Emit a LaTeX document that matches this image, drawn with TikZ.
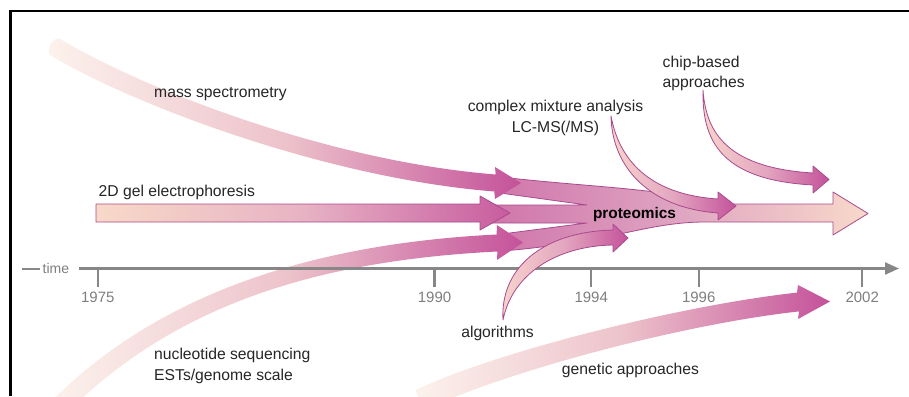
\documentclass[tikz,border=0pt]{standalone}
\usepackage{fontspec}
\setmainfont{Liberation Sans}
\usetikzlibrary{arrows.meta}
\definecolor{mag}{HTML}{C4529A}
\definecolor{peach}{HTML}{F8D8C8}
\definecolor{msL}{HTML}{FCF2EC}
\definecolor{msM}{HTML}{EDC3CB}
\definecolor{gelL}{HTML}{F8D9C8}
\definecolor{gelM}{HTML}{E7B3C4}
\definecolor{gelR}{HTML}{C85C9F}
\definecolor{blobL}{HTML}{CF74AA}
\definecolor{blobM}{HTML}{DFA4C1}
\definecolor{blobR}{HTML}{F8D9CA}
\definecolor{hornL}{HTML}{F7D5CC}
\definecolor{hornM}{HTML}{E3A6C0}
\definecolor{outc}{HTML}{A94A8E}
\definecolor{axisc}{HTML}{878787}
\definecolor{yearc}{HTML}{7F7F7F}
\definecolor{labelc}{HTML}{262626}
\tikzset{
  lbl/.style={font=\fontsize{15.7}{19}\selectfont, text=labelc, inner sep=0pt},
  yr/.style={font=\fontsize{15}{18}\selectfont, text=yearc, inner sep=0pt, anchor=base},
  outl/.style={draw=outc, line width=0.8pt, line join=round},
  ticksty/.style={draw=axisc, line width=2.2pt},
  bandfade/.style={left color=msL, right color=mag, middle color=msM},
  hornfill/.style={outl, left color=hornL, right color=mag, middle color=hornM},
}
\begin{document}
\begin{tikzpicture}[x=1pt,y=-1pt]
\useasboundingbox (0,0) rectangle (909,396);
\fill[white] (0,0) rectangle (909,396);

% frame
\draw[line width=2.2pt] (10.5,396) -- (10.5,11) -- (909,11);

% proteomics blob with final arrow
\draw[outl, left color=blobL, right color=blobR, middle color=blobM]
  (500,177) .. controls (590,187) and (650,188) .. (700,200)
  .. controls (712,203) and (720,204) .. (735,204) -- (833,204) -- (833,192)
  -- (868,213.5) -- (833,235) -- (833,222) -- (705,222)
  .. controls (670,222) and (640,230) .. (610,236)
  .. controls (580,242) and (540,248) .. (502,251) -- (502,234) -- (587,223)
  -- (485,223) -- (485,205) -- (587,205) -- (500,193) -- cycle;

% mass spectrometry band
\shade[bandfade]
  (59.9,38.9) .. controls (144.9,89.9) and (330.7,161.5) .. (495.7,174.5)
  -- (495,167) -- (521,183) -- (495,199) -- (494.3,191.5)
  .. controls (329.3,178.5) and (135.1,106.1) .. (50.1,55.1)
  .. controls (46,48) and (53,37) .. (59.9,38.9) -- cycle;

% nucleotide sequencing band
\shade[bandfade]
  (51.3,401.3) .. controls (151.3,301.3) and (296.6,244.5) .. (496.6,234.5)
  -- (497,225) -- (523,242.5) -- (497,260) -- (497.4,251.5)
  .. controls (297.4,261.5) and (164.7,314.7) .. (64.7,414.7) -- cycle;

% time axis
\coordinate (dashS) at (22,268.5);
\coordinate (dashE) at (39.5,268.5);
\coordinate (axS) at (79,268.5);
\coordinate (axE) at (899,268.5);
\draw[axisc, line width=2pt] (dashS) -- (dashE);
\draw[axisc, line width=2.2pt, -{Triangle[length=14pt,width=12pt]}] (axS) -- (axE);
\node[font=\fontsize{14}{16}\selectfont, text=yearc, anchor=base west, inner sep=0pt] (time) at (42.5,273) {time};

\foreach \yx/\yl in {97.8/1975, 434.5/1990, 591.2/1994, 698.7/1996, 862.2/2002}{
  \coordinate (t\yl) at (\yx,268.5);
  \coordinate (b\yl) at (\yx,287);
  \draw[ticksty] (t\yl) -- (b\yl);
  \node[yr] (y\yl) at (\yx,302) {\yl};
}

% genetic approaches band
\shade[bandfade]
  (415.3,390.1) .. controls (495.3,352.1) and (679,305.6) .. (797,292.6)
  -- (798,285) -- (830,301.5) -- (798,319) -- (799,311.4)
  .. controls (681,324.4) and (504.7,371.9) .. (424.7,409.9) -- cycle;

% 2D gel electrophoresis arrow
\draw[outl, left color=gelL, right color=gelR, middle color=gelM]
  (96,204) -- (480,204) -- (480,196) -- (510,213) -- (480,230) -- (480,222)
  -- (96,222) -- cycle;

% complex mixture horn
\draw[hornfill]
  (611,116) .. controls (620,165) and (655,195) .. (718,199) -- (718,192)
  -- (736,206) -- (718,220) -- (718,213)
  .. controls (650,208) and (612,168) .. (611,116) -- cycle;

% chip-based horn
\draw[hornfill]
  (703,90) .. controls (706,135) and (730,168) .. (813,173) -- (813,166)
  -- (829,179.5) -- (813,193) -- (813,185)
  .. controls (720,180) and (702,140) .. (703,90) -- cycle;

% algorithms horn
\draw[hornfill]
  (503,320) .. controls (500,270) and (540,232) .. (613,230) -- (613,224)
  -- (628,238) -- (613,252) -- (613,245)
  .. controls (555,246) and (512,275) .. (503,320) -- cycle;

% labels
\node[lbl, anchor=base west] (ms) at (154,97) {mass spectrometry};
\node[lbl, anchor=base west] (gel) at (98.5,196) {2D gel electrophoresis};
\node[lbl, anchor=base west] (nuc1) at (154,359) {nucleotide sequencing};
\node[lbl, anchor=base west] (nuc2) at (154,380) {ESTs/genome scale};
\node[lbl, anchor=base] (cx1) at (555.5,111) {complex mixture analysis};
\node[lbl, anchor=base] (cx2) at (555.5,132) {LC-MS(/MS)};
\node[lbl, anchor=base west] (chip1) at (662.5,67) {chip-based};
\node[lbl, anchor=base west] (chip2) at (662.5,87) {approaches};
\node[lbl, anchor=base] (alg) at (497.5,337) {algorithms};
\node[lbl, anchor=base] (gen) at (630.5,374) {genetic approaches};
\node[lbl, anchor=base, font=\fontsize{15.4}{19}\selectfont\bfseries, text=black] (prot) at (634.5,218) {proteomics};
\end{tikzpicture}
\end{document}
